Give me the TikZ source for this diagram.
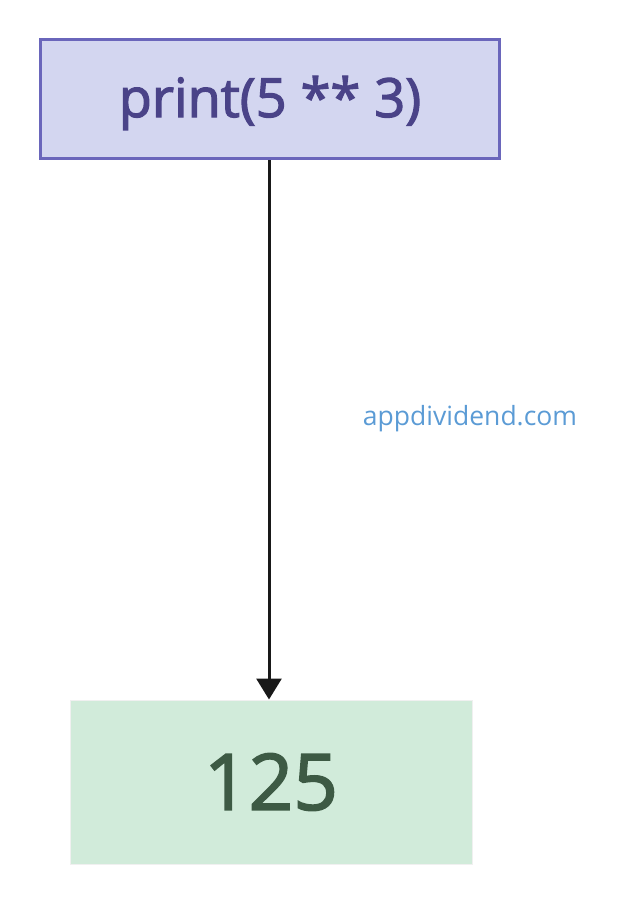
\documentclass[tikz,border=0pt]{standalone}
\usepackage{fontspec}
\setmainfont{Open Sans}
\newfontfamily\heavysans{Open Sans}[FakeBold=2.2]
\usetikzlibrary{arrows.meta}

\definecolor{boxblue}{HTML}{D3D6F0}
\definecolor{lineblue}{HTML}{6A66BB}
\definecolor{textblue}{HTML}{4A4388}
\definecolor{boxgreen}{HTML}{D1EBDA}
\definecolor{textgreen}{HTML}{3D5A44}
\definecolor{markblue}{HTML}{5B9BD5}

\begin{document}
\begin{tikzpicture}[x=1pt, y=-1pt,
	codebox/.style={shape=rectangle, fill=boxblue, draw=lineblue, line width=3pt, minimum width=459pt, minimum height=119pt, inner sep=0pt, text height=49pt, text depth=13pt, text=textblue, font=\heavysans\fontsize{54}{60}\selectfont},
	resultbox/.style={shape=rectangle, fill=boxgreen, draw=black!6, line width=1pt, minimum width=402pt, minimum height=164pt, inner sep=0pt, text=textgreen, font=\heavysans\fontsize{78}{90}\selectfont},
	flow/.style={-{Triangle[length=21pt, width=25pt]}, line width=3pt, color=black!90}]
	
	\useasboundingbox (0,0) rectangle (642,906);
	
	\node[codebox] (code) at (270, 99)    {print(5 ** 3)};
	\node[resultbox] (result) at (271, 782)    {125};
	
	\node[text=markblue, font=\fontsize{26.5}{30}\selectfont] (mark) at (470, 419)    {appdividend.com};
	
    \path[flow] (code.south -| 269,0) edge (result.north -| 269,0);
    
	\end{tikzpicture}
\end{document}
